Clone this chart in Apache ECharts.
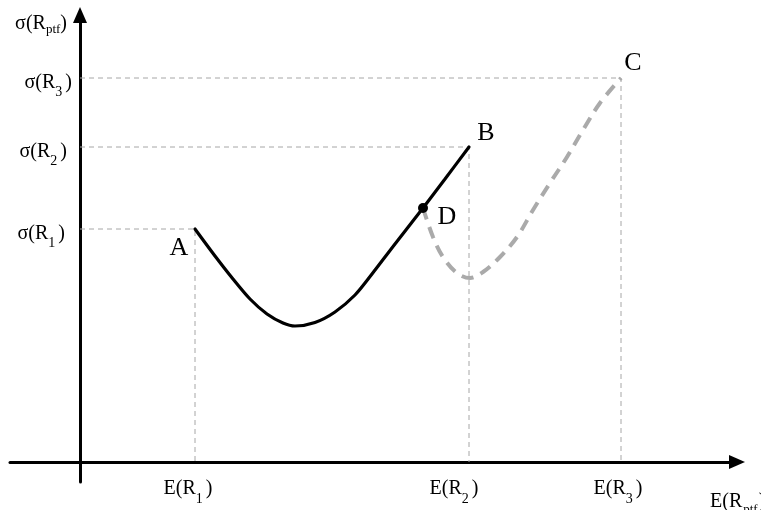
<!DOCTYPE html>
<html>
<head>
<meta charset="utf-8">
<script src="https://cdn.jsdelivr.net/npm/echarts@6/dist/echarts.min.js"></script>
<style>
  html, body { margin: 0; padding: 0; background: #fff; }
  #chart { width: 761px; height: 510px; }
</style>
</head>
<body>
<div id="chart"></div>
<script>
// Expected return E(R) runs along the horizontal axis, risk σ(R) up the vertical axis.
const assetReturns = [115, 389, 541];   // E(R1), E(R2), E(R3)
const assetRisks = [233, 315, 384];     // σ(R1), σ(R2), σ(R3)
const assetIndices = ['1', '2', '3'];
const pointNames = ['A', 'B', 'C', 'D'];

// Frontier of portfolios made of assets 1 and 2 (A → B)
const frontierABReturn = [115, 135, 153, 170, 187, 203, 215, 235, 255, 275, 292, 315, 343, 365, 389];
const frontierABRisk   = [233, 206, 183, 163, 148, 139, 136, 139.5, 150, 167, 188, 218, 254, 283, 315];

// Frontier from portfolio D to asset 3 (D → C)
const frontierDCReturn = [343, 353, 363, 377, 390, 403, 420, 437, 453, 470, 487, 503, 520, 541];
const frontierDCRisk   = [254, 225, 205, 189, 184, 190, 205, 225, 252, 279, 305, 332, 359, 384];

const serif = "'Liberation Serif', 'Times New Roman', serif";
const ink = '#000';

const pointReturns = [assetReturns[0], assetReturns[1], assetReturns[2], frontierDCReturn[0]];
const pointRisks = [assetRisks[0], assetRisks[1], assetRisks[2], frontierDCRisk[0]];
const pointLabelOffsets = [[-16, 19], [17, -14], [12, -15], [24, 9]];

const zip = (xs, ys) => xs.map((x, i) => [x, ys[i]]);

// rich text pieces: main glyphs and lowered subscripts
const mainText = { fontFamily: serif, fontSize: 20, lineHeight: 20, color: ink, verticalAlign: 'top' };
const subText = { fontFamily: serif, fontSize: 14, lineHeight: 14, color: ink, verticalAlign: 'top', padding: [13, 3, 0, 0] };

// per-label trailing space, nudging individual tick labels sideways
const xLabelTrail = [14, 30, 6];
const yLabelTrail = [7, 5, 0];

const xRich = { m: mainText, s: subText };
xLabelTrail.forEach((p, i) => { xRich['c' + i] = Object.assign({}, mainText, { padding: [0, p, 0, 0] }); });
const yRich = { m: mainText, s: subText };
yLabelTrail.forEach((p, i) => { yRich['c' + i] = Object.assign({}, mainText, { padding: [0, p, 0, 0] }); });

const guideStyle = { color: '#a6a6a6', width: 1, type: [5, 4] };

const guideSeries = assetReturns.map((e, i) => ({
  type: 'line',
  silent: true,
  symbol: 'none',
  z: 1,
  lineStyle: guideStyle,
  data: [[0, assetRisks[i]], [e, assetRisks[i]], [e, 0]]
}));

const axisLineStyle = {
  onZero: true,
  symbol: ['none', 'triangle'],
  symbolSize: [14, 16],
  lineStyle: { color: ink, width: 3 }
};

const option = {
  animation: false,
  backgroundColor: '#fff',
  grid: { left: 10, right: 24, top: 15, bottom: 28, containLabel: false, outerBoundsMode: 'none' },
  xAxis: {
    type: 'value',
    min: -70,
    max: 657,
    splitLine: { show: false },
    axisTick: { show: false },
    axisLine: axisLineStyle,
    axisLabel: {
      customValues: assetReturns,
      margin: -3,
      formatter: (v) => {
        const i = assetReturns.indexOf(v);
        return '{m|E(R}{s|' + assetIndices[i] + '}{c' + i + '|)}';
      },
      rich: xRich
    },
    name: '{m|E(R}{q|ptf}{m|)}',
    nameLocation: 'end',
    nameGap: -27,
    nameTextStyle: {
      align: 'left',
      verticalAlign: 'middle',
      padding: [80, 0, 0, 0],
      rich: {
        m: mainText,
        q: { fontFamily: serif, fontSize: 13, lineHeight: 13, color: ink, verticalAlign: 'top', padding: [11, 1, 0, 1] }
      }
    }
  },
  yAxis: {
    type: 'value',
    min: -20,
    max: 447,
    splitLine: { show: false },
    axisTick: { show: false },
    axisLine: axisLineStyle,
    axisLabel: {
      customValues: assetRisks,
      margin: -62,
      padding: [9, 0, 0, 0],
      formatter: (v) => {
        const i = assetRisks.indexOf(v);
        return '{m|σ(R}{s|' + assetIndices[i] + '}{c' + i + '|)}';
      },
      rich: yRich
    },
    name: '{m|σ(R}{p|ptf}{m|)}',
    nameLocation: 'end',
    nameGap: -9,
    nameTextStyle: {
      align: 'right',
      verticalAlign: 'middle',
      padding: [0, 13, 0, 0],
      rich: {
        m: mainText,
        p: { fontFamily: serif, fontSize: 13, lineHeight: 13, color: ink, verticalAlign: 'top', padding: [9, 0, 0, 0] }
      }
    }
  },
  series: [
    ...guideSeries,
    {
      type: 'line',
      name: 'D-C',
      silent: true,
      symbol: 'none',
      smooth: 0.35,
      z: 2,
      lineStyle: { color: '#aaaaaa', width: 4, type: [12, 8] },
      data: zip(frontierDCReturn, frontierDCRisk)
    },
    {
      type: 'line',
      name: 'A-B',
      silent: true,
      symbol: 'none',
      smooth: 0.3,
      z: 3,
      lineStyle: { color: ink, width: 3.2, cap: 'round' },
      data: zip(frontierABReturn, frontierABRisk)
    },
    {
      type: 'scatter',
      silent: true,
      z: 4,
      symbol: 'circle',
      itemStyle: { color: ink, opacity: 1 },
      data: pointNames.map((n, i) => ({
        name: n,
        value: [pointReturns[i], pointRisks[i]],
        symbolSize: n === 'D' ? 10 : 0,
        label: {
          show: true,
          position: 'inside',
          offset: pointLabelOffsets[i],
          formatter: '{b}',
          fontFamily: serif,
          fontSize: 26,
          color: ink,
          opacity: 1
        }
      }))
    }
  ]
};

const chart = echarts.init(document.getElementById('chart'), null, { renderer: 'canvas' });
chart.setOption(option);
</script>
</body>
</html>
